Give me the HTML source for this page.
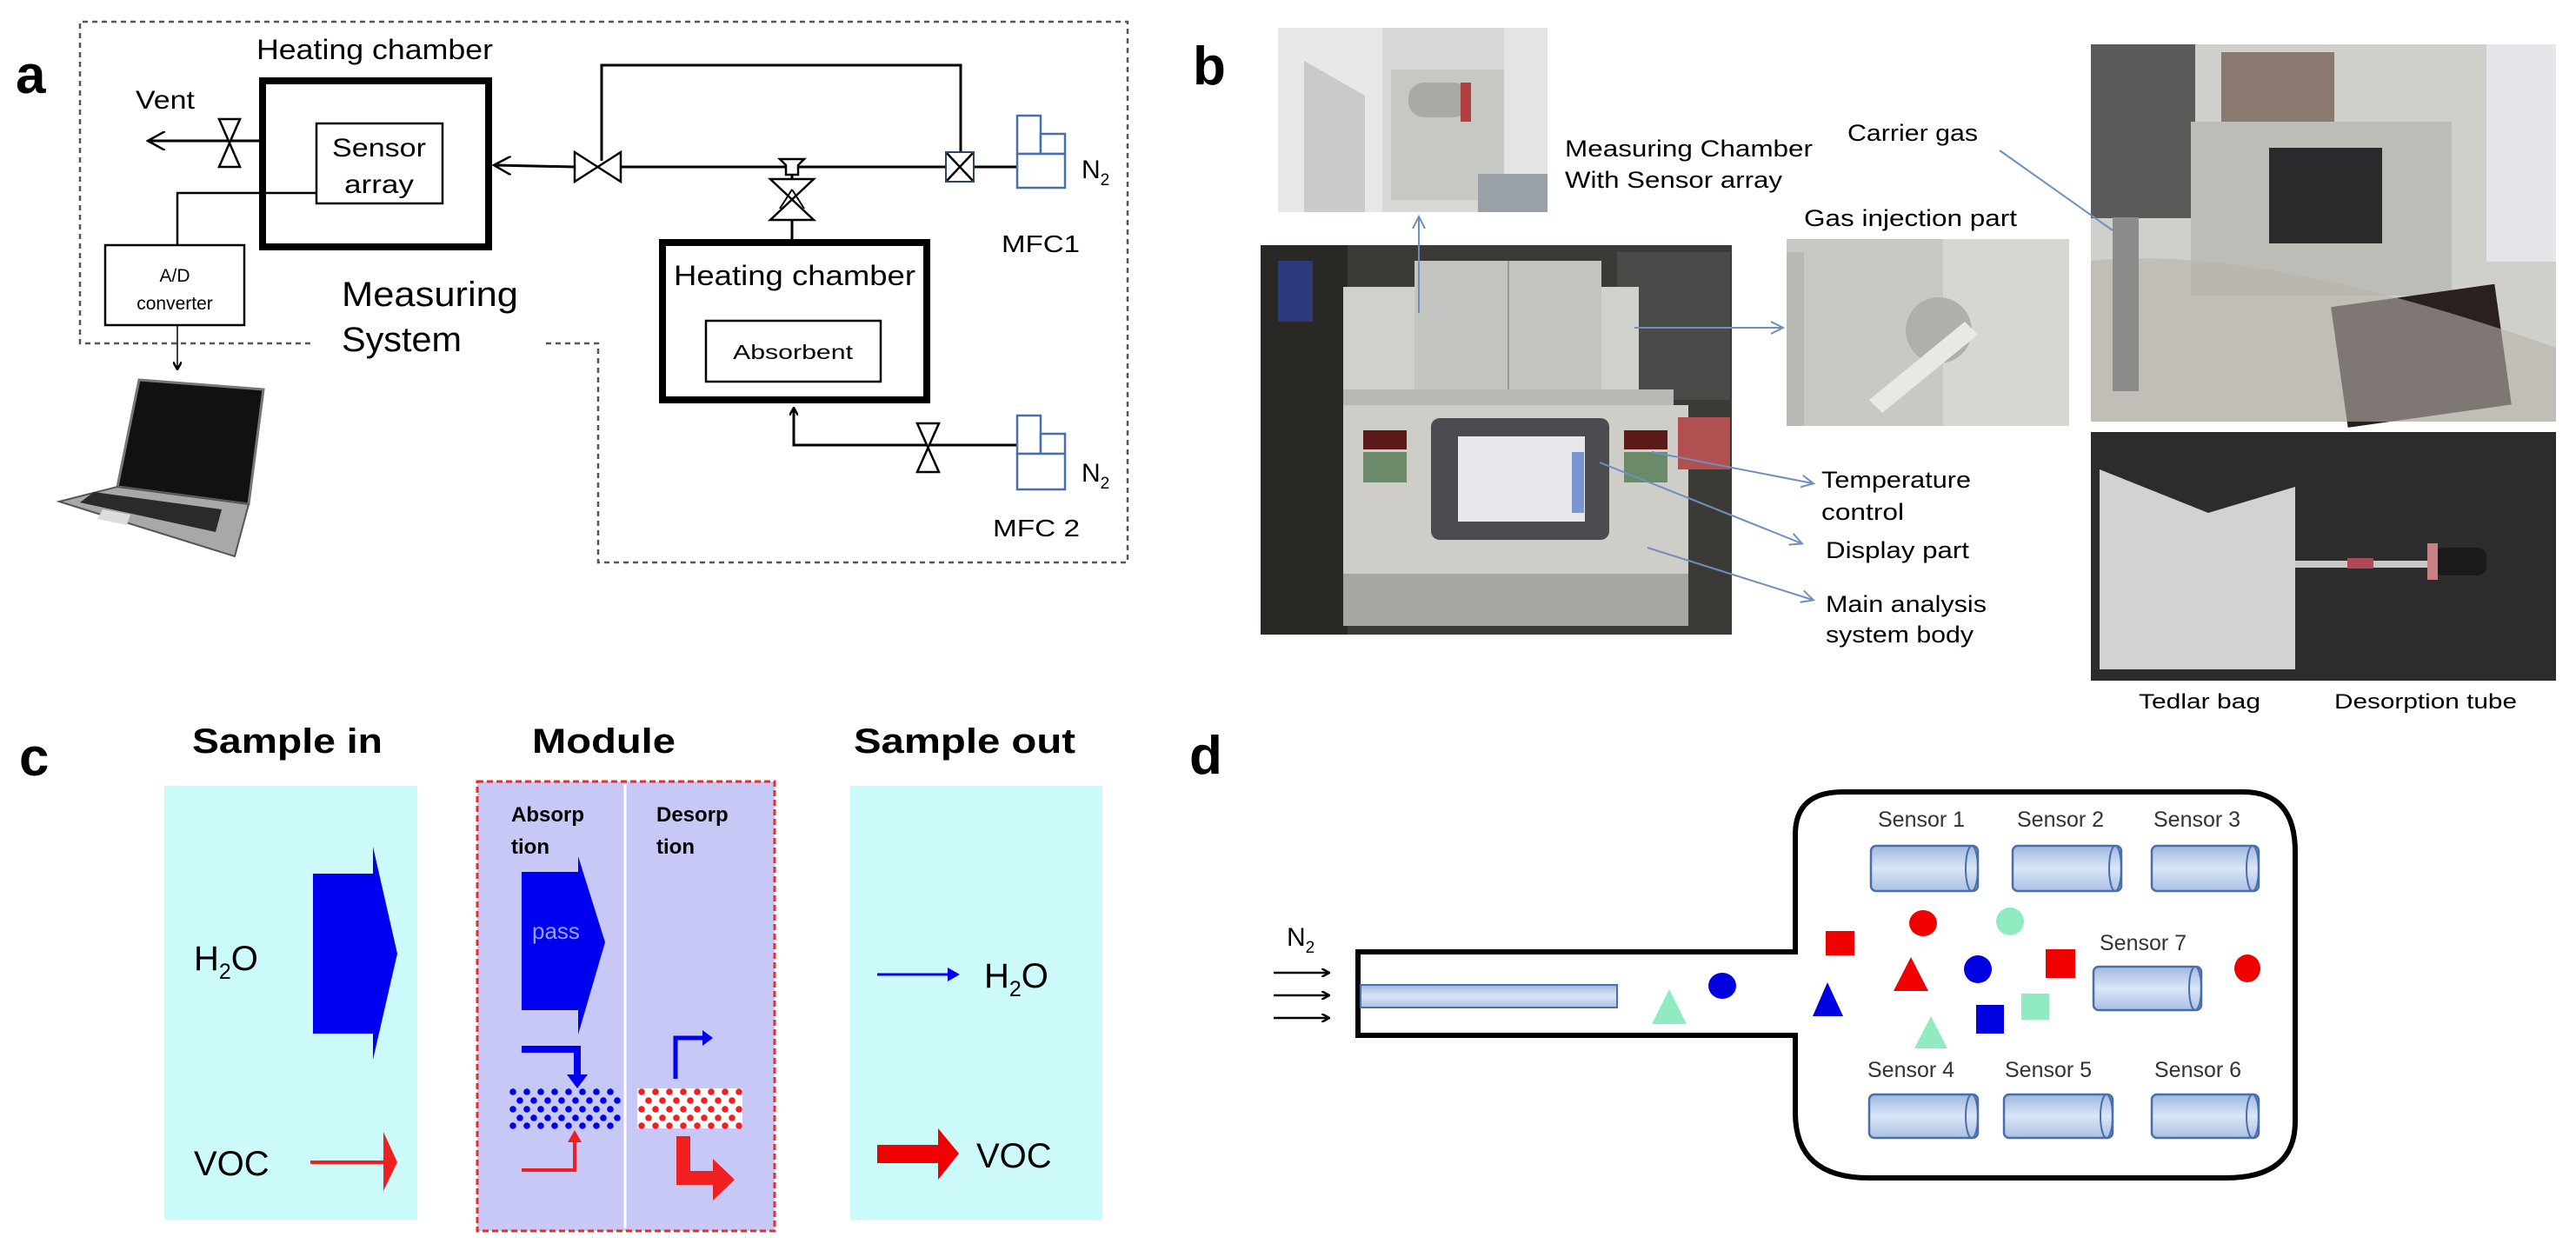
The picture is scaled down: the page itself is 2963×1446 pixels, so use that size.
<!DOCTYPE html>
<html><head><meta charset="utf-8"><style>
html,body{margin:0;padding:0;background:#fff;width:2963px;height:1446px;overflow:hidden}
svg{display:block}
text{font-family:"Liberation Sans",sans-serif}
</style></head><body>
<svg width="2963" height="1446" viewBox="0 0 2963 1446" xmlns="http://www.w3.org/2000/svg">
<defs>
<linearGradient id="cyl" x1="0" y1="0" x2="0" y2="1"><stop offset="0" stop-color="#9fb8e0"/><stop offset="0.5" stop-color="#dbe6f7"/><stop offset="1" stop-color="#a9c0e4"/></linearGradient>
<marker id="ah" markerWidth="10" markerHeight="10" refX="8" refY="5" orient="auto" markerUnits="userSpaceOnUse"><path d="M0,0 L9,5 L0,10" fill="none" stroke="#000" stroke-width="2.5"/></marker>
<marker id="bh" markerWidth="16" markerHeight="16" refX="13" refY="8" orient="auto" markerUnits="userSpaceOnUse"><path d="M0,1 L14,8 L0,15" fill="none" stroke="#6f8fc0" stroke-width="2"/></marker>
<marker id="kh" markerWidth="22" markerHeight="22" refX="18" refY="11" orient="auto" markerUnits="userSpaceOnUse"><path d="M0,0 L20,11 L0,22" fill="none" stroke="#000" stroke-width="2.5"/></marker>
</defs>

<!-- ============ PANEL A ============ -->
<text x="18" y="107" font-size="62" font-weight="bold">a</text>
<path d="M357,395 L92,395 L92,25 L1297,25 L1297,647 L688,647 L688,395 L625,395" fill="none" stroke="#555" stroke-width="2.5" stroke-dasharray="6,5"/>
<text x="295" y="68" font-size="32" textLength="272" lengthAdjust="spacingAndGlyphs">Heating chamber</text>
<rect x="302" y="93" width="260" height="191" fill="none" stroke="#000" stroke-width="8"/>
<rect x="364" y="142" width="145" height="92" fill="none" stroke="#000" stroke-width="2.5"/>
<text x="436" y="180" font-size="30" text-anchor="middle" textLength="108" lengthAdjust="spacingAndGlyphs">Sensor</text>
<text x="436" y="222" font-size="30" text-anchor="middle" textLength="80" lengthAdjust="spacingAndGlyphs">array</text>
<text x="156" y="125" font-size="30" textLength="68" lengthAdjust="spacingAndGlyphs">Vent</text>
<line x1="298" y1="162" x2="172" y2="162" stroke="#000" stroke-width="3" marker-end="url(#kh)"/>
<path d="M252,137 L276,137 L252,192 L276,192 Z" fill="#fff" stroke="#000" stroke-width="2.5"/>
<path d="M364,222 L204,222 L204,282" fill="none" stroke="#000" stroke-width="2.5"/>
<rect x="121" y="282" width="160" height="92" fill="none" stroke="#000" stroke-width="2.5"/>
<text x="201" y="324" font-size="21" text-anchor="middle">A/D</text>
<text x="201" y="356" font-size="21" text-anchor="middle">converter</text>
<line x1="204" y1="374" x2="204" y2="424" stroke="#000" stroke-width="1.5" marker-end="url(#ah)"/>
<text x="393" y="352" font-size="40" textLength="203" lengthAdjust="spacingAndGlyphs">Measuring</text>
<text x="393" y="404" font-size="40" textLength="138" lengthAdjust="spacingAndGlyphs">System</text>
<!-- laptop -->
<path d="M160,437 L303,448 L286,580 L135,560 Z" fill="#111" stroke="#777" stroke-width="3"/>
<path d="M135,560 L286,580 L270,640 L68,577 Z" fill="#a8a8a8" stroke="#555" stroke-width="2"/>
<path d="M108,566 L255,586 L248,612 L92,578 Z" fill="#2a2a2a"/>
<path d="M118,586 L150,592 L146,604 L112,597 Z" fill="#ddd"/>
<!-- main line -->
<line x1="661" y1="192" x2="570" y2="190" stroke="#000" stroke-width="3" marker-end="url(#kh)"/>
<path d="M714,192 L1170,192" stroke="#000" stroke-width="3"/>
<path d="M661,175 L661,209 L714,175 L714,209 Z" fill="#fff" stroke="#000" stroke-width="2.5"/>
<path d="M692,185 L692,75 L1105,75 L1105,180" fill="none" stroke="#000" stroke-width="3"/>
<path d="M897,183 L925,183 L918,190 L918,201 L904,201 L904,190 Z" fill="#fff" stroke="#000" stroke-width="2.5"/>
<rect x="1088" y="175" width="32" height="34" fill="#fff" stroke="#000" stroke-width="2"/>
<path d="M1088,175 L1120,209 M1120,175 L1088,209" stroke="#000" stroke-width="2.5"/>
<rect x="1088" y="175" width="32" height="34" fill="none" stroke="#6a86b5" stroke-width="1"/>
<path d="M911,201 L911,276" stroke="#000" stroke-width="3"/>
<path d="M886,206 L936,206 L886,253 L936,253 Z" fill="#fff" stroke="#000" stroke-width="2.5"/>
<path d="M911,218 L897,240 M911,218 L925,240" stroke="#000" stroke-width="2"/>
<rect x="762" y="279" width="304" height="181" fill="none" stroke="#000" stroke-width="8"/>
<text x="914" y="328" font-size="32" text-anchor="middle" textLength="278" lengthAdjust="spacingAndGlyphs">Heating chamber</text>
<rect x="812" y="369" width="201" height="70" fill="none" stroke="#000" stroke-width="2.5"/>
<text x="912" y="413" font-size="23" text-anchor="middle" textLength="138" lengthAdjust="spacingAndGlyphs">Absorbent</text>
<path d="M1170,512 L913,512 L913,470" fill="none" stroke="#000" stroke-width="3" marker-end="url(#ah)"/>
<path d="M1055,487 L1080,487 L1055,543 L1080,543 Z" fill="#fff" stroke="#000" stroke-width="2.5"/>
<!-- MFCs -->
<g fill="#fff" stroke="#4a6ea8" stroke-width="2.5">
<rect x="1170" y="133" width="27" height="44"/><rect x="1197" y="154" width="28" height="23"/><rect x="1170" y="177" width="55" height="39"/>
<rect x="1170" y="478" width="27" height="44"/><rect x="1197" y="499" width="28" height="23"/><rect x="1170" y="522" width="55" height="41"/>
</g>
<text x="1244" y="205" font-size="30">N<tspan font-size="19" dy="8">2</tspan></text>
<text x="1244" y="554" font-size="30">N<tspan font-size="19" dy="8">2</tspan></text>
<text x="1152" y="290" font-size="28" textLength="90" lengthAdjust="spacingAndGlyphs">MFC1</text>
<text x="1142" y="617" font-size="28" textLength="100" lengthAdjust="spacingAndGlyphs">MFC 2</text>

<!-- ============ PANEL B ============ -->
<text x="1372" y="97" font-size="62" font-weight="bold">b</text>
<!-- photo 1 -->
<rect x="1470" y="32" width="310" height="212" fill="#d8d8d6"/>
<rect x="1470" y="32" width="120" height="212" fill="#e8e8e6"/>
<path d="M1500,70 L1570,110 L1570,244 L1500,244 Z" fill="#c9cbc8"/>
<rect x="1600" y="80" width="180" height="150" fill="#c6c8c4"/>
<rect x="1620" y="95" width="70" height="40" rx="18" fill="#a9aaa5"/>
<rect x="1680" y="95" width="12" height="45" fill="#b04040"/>
<rect x="1730" y="32" width="50" height="212" fill="#e4e4e2"/>
<rect x="1700" y="200" width="80" height="44" fill="#9aa0a8"/>
<!-- main photo -->
<rect x="1450" y="282" width="542" height="448" fill="#3c3a36"/>
<rect x="1450" y="282" width="100" height="448" fill="#2a2824"/>
<rect x="1470" y="300" width="40" height="70" fill="#2a3a7a"/>
<rect x="1860" y="290" width="130" height="170" fill="#4a4a48"/>
<rect x="1545" y="330" width="340" height="130" fill="#d0d0cc"/>
<rect x="1627" y="300" width="215" height="150" fill="#c4c4c0"/>
<line x1="1735" y1="300" x2="1735" y2="450" stroke="#999" stroke-width="2"/>
<rect x="1545" y="448" width="380" height="22" fill="#b8b8b4"/>
<rect x="1545" y="466" width="397" height="254" fill="#cfcdc8"/>
<rect x="1545" y="660" width="397" height="60" fill="#a6a6a2"/>
<rect x="1568" y="495" width="50" height="22" fill="#5a1a18"/>
<rect x="1868" y="495" width="50" height="22" fill="#5a1a18"/>
<rect x="1568" y="520" width="50" height="35" fill="#6a8a6a"/>
<rect x="1868" y="520" width="50" height="35" fill="#6a8a6a"/>
<rect x="1646" y="481" width="205" height="140" rx="10" fill="#4a4c50"/>
<rect x="1677" y="502" width="146" height="98" fill="#e6e8ee"/>
<rect x="1808" y="520" width="14" height="70" fill="#7a96d0"/>
<rect x="1930" y="480" width="60" height="60" fill="#b05050"/>
<!-- gas injection photo -->
<rect x="2055" y="275" width="325" height="215" fill="#d6d6d3"/>
<rect x="2055" y="275" width="180" height="215" fill="#c8c8c4"/>
<circle cx="2230" cy="380" r="38" fill="#b0b0aa"/>
<path d="M2150,460 L2260,370 L2275,385 L2165,475 Z" fill="#e8e8e4"/>
<rect x="2055" y="290" width="20" height="200" fill="#b8b8b4"/>
<!-- top right photo -->
<rect x="2405" y="51" width="535" height="434" fill="#cfcfcb"/>
<rect x="2405" y="51" width="120" height="200" fill="#5a5a58"/>
<rect x="2860" y="51" width="80" height="250" fill="#e6e6ea"/>
<rect x="2520" y="140" width="300" height="200" fill="#bdbdb8"/>
<rect x="2555" y="60" width="130" height="80" fill="#8a7a70"/>
<rect x="2610" y="170" width="130" height="110" fill="#2a2a2c"/>
<rect x="2690" y="340" width="190" height="140" fill="#2a2020" transform="rotate(-8 2780 410)"/>
<path d="M2405,300 Q2600,280 2940,400 L2940,485 L2405,485 Z" fill="#b8b3ac" opacity="0.6"/>
<rect x="2430" y="250" width="30" height="200" fill="#8c8c8c"/>
<!-- bottom right photo -->
<rect x="2405" y="497" width="535" height="286" fill="#2c2c2c"/>
<path d="M2415,540 L2540,590 L2640,560 L2640,770 L2415,770 Z" fill="#d2d2d4"/>
<rect x="2640" y="645" width="160" height="8" fill="#c8c8c8"/>
<rect x="2700" y="642" width="30" height="12" fill="#b04a5a"/>
<rect x="2800" y="630" width="60" height="32" rx="10" fill="#1a1a1a"/>
<rect x="2792" y="625" width="12" height="42" fill="#c88080"/>
<text x="2460" y="815" font-size="24" textLength="140" lengthAdjust="spacingAndGlyphs">Tedlar bag</text>
<text x="2685" y="815" font-size="24" textLength="210" lengthAdjust="spacingAndGlyphs">Desorption tube</text>
<!-- labels -->
<text x="1800" y="180" font-size="27" textLength="285" lengthAdjust="spacingAndGlyphs">Measuring Chamber</text>
<text x="1800" y="216" font-size="27" textLength="250" lengthAdjust="spacingAndGlyphs">With Sensor array</text>
<text x="2125" y="162" font-size="27" textLength="150" lengthAdjust="spacingAndGlyphs">Carrier gas</text>
<text x="2075" y="260" font-size="27" textLength="245" lengthAdjust="spacingAndGlyphs">Gas injection part</text>
<text x="2095" y="561" font-size="27" textLength="172" lengthAdjust="spacingAndGlyphs">Temperature</text>
<text x="2095" y="598" font-size="27" textLength="95" lengthAdjust="spacingAndGlyphs">control</text>
<text x="2100" y="642" font-size="27" textLength="165" lengthAdjust="spacingAndGlyphs">Display part</text>
<text x="2100" y="704" font-size="27" textLength="185" lengthAdjust="spacingAndGlyphs">Main analysis</text>
<text x="2100" y="739" font-size="27" textLength="170" lengthAdjust="spacingAndGlyphs">system body</text>
<g stroke="#6f8fc0" stroke-width="2" fill="none">
<line x1="1632" y1="360" x2="1632" y2="250" marker-end="url(#bh)"/>
<line x1="1880" y1="377" x2="2050" y2="377" marker-end="url(#bh)"/>
<line x1="2300" y1="173" x2="2430" y2="265"/>
<line x1="1900" y1="520" x2="2085" y2="556" marker-end="url(#bh)"/>
<line x1="1840" y1="532" x2="2072" y2="625" marker-end="url(#bh)"/>
<line x1="1895" y1="630" x2="2085" y2="690" marker-end="url(#bh)"/>
</g>

<!-- ============ PANEL C ============ -->
<text x="22" y="892" font-size="62" font-weight="bold">c</text>
<text x="221" y="866" font-size="40" font-weight="bold" textLength="219" lengthAdjust="spacingAndGlyphs">Sample in</text>
<text x="612" y="866" font-size="40" font-weight="bold" textLength="165" lengthAdjust="spacingAndGlyphs">Module</text>
<text x="982" y="866" font-size="40" font-weight="bold" textLength="255" lengthAdjust="spacingAndGlyphs">Sample out</text>
<rect x="189" y="904" width="291" height="499" fill="#ccfafa"/>
<rect x="978" y="904" width="290" height="499" fill="#ccfafa"/>
<rect x="549" y="899" width="342" height="517" fill="#c8c8f6" stroke="#e03030" stroke-width="3" stroke-dasharray="7,4"/>
<line x1="719" y1="902" x2="719" y2="1413" stroke="#fff" stroke-width="3"/>
<text x="223" y="1116" font-size="40">H<tspan font-size="25" dy="10">2</tspan><tspan dy="-10">O</tspan></text>
<text x="223" y="1352" font-size="40">VOC</text>
<path d="M360,1005 L429,1005 L429,974 L457,1097 L429,1219 L429,1189 L360,1189 Z" fill="#0000f0"/>
<path d="M357,1337 L450,1337" stroke="#f02020" stroke-width="4"/>
<path d="M441,1302 L457,1337 L441,1370 Z" fill="#f02020"/>
<text x="588" y="945" font-size="24" font-weight="bold">Absorp</text>
<text x="588" y="982" font-size="24" font-weight="bold">tion</text>
<text x="755" y="945" font-size="24" font-weight="bold">Desorp</text>
<text x="755" y="982" font-size="24" font-weight="bold">tion</text>
<path d="M600,1003 L665,1003 L665,985 L696,1084 L665,1190 L665,1162 L600,1162 Z" fill="#0000f0"/>
<text x="612" y="1080" font-size="26" fill="#9aa0ff">pass</text>
<path d="M600,1207 L664,1207 L664,1238" fill="none" stroke="#0000f0" stroke-width="8"/>
<path d="M652,1236 L664,1252 L676,1236 Z" fill="#0000f0"/>
<path d="M600,1346 L661,1346 L661,1312" fill="none" stroke="#f02020" stroke-width="4"/>
<path d="M653,1314 L661,1300 L669,1314 Z" fill="#f02020"/>
<path d="M777,1241 L777,1194 L810,1194" fill="none" stroke="#0000f0" stroke-width="5"/>
<path d="M808,1185 L820,1194 L808,1203 Z" fill="#0000f0"/>
<path d="M786,1307 L786,1355 L822,1355" fill="none" stroke="#f02020" stroke-width="16"/>
<path d="M820,1333 L845,1357 L820,1381 Z" fill="#f02020"/>
<g id="dots">
</g>
<!-- dot grids -->
<g fill="#0000f0">
<circle cx="590" cy="1256" r="3.8"/><circle cx="606" cy="1256" r="3.8"/><circle cx="622" cy="1256" r="3.8"/><circle cx="638" cy="1256" r="3.8"/><circle cx="654" cy="1256" r="3.8"/><circle cx="670" cy="1256" r="3.8"/><circle cx="686" cy="1256" r="3.8"/><circle cx="702" cy="1256" r="3.8"/>
<circle cx="598" cy="1266" r="3.8"/><circle cx="614" cy="1266" r="3.8"/><circle cx="630" cy="1266" r="3.8"/><circle cx="646" cy="1266" r="3.8"/><circle cx="662" cy="1266" r="3.8"/><circle cx="678" cy="1266" r="3.8"/><circle cx="694" cy="1266" r="3.8"/><circle cx="710" cy="1266" r="3.8"/>
<circle cx="590" cy="1276" r="3.8"/><circle cx="606" cy="1276" r="3.8"/><circle cx="622" cy="1276" r="3.8"/><circle cx="638" cy="1276" r="3.8"/><circle cx="654" cy="1276" r="3.8"/><circle cx="670" cy="1276" r="3.8"/><circle cx="686" cy="1276" r="3.8"/><circle cx="702" cy="1276" r="3.8"/>
<circle cx="598" cy="1286" r="3.8"/><circle cx="614" cy="1286" r="3.8"/><circle cx="630" cy="1286" r="3.8"/><circle cx="646" cy="1286" r="3.8"/><circle cx="662" cy="1286" r="3.8"/><circle cx="678" cy="1286" r="3.8"/><circle cx="694" cy="1286" r="3.8"/><circle cx="710" cy="1286" r="3.8"/>
<circle cx="590" cy="1295" r="3.8"/><circle cx="606" cy="1295" r="3.8"/><circle cx="622" cy="1295" r="3.8"/><circle cx="638" cy="1295" r="3.8"/><circle cx="654" cy="1295" r="3.8"/><circle cx="670" cy="1295" r="3.8"/><circle cx="686" cy="1295" r="3.8"/><circle cx="702" cy="1295" r="3.8"/>
</g>
<rect x="733" y="1252" width="121" height="46" fill="#fff"/>
<g fill="#f02020">
<circle cx="738" cy="1256" r="3.8"/><circle cx="754" cy="1256" r="3.8"/><circle cx="770" cy="1256" r="3.8"/><circle cx="786" cy="1256" r="3.8"/><circle cx="802" cy="1256" r="3.8"/><circle cx="818" cy="1256" r="3.8"/><circle cx="834" cy="1256" r="3.8"/><circle cx="850" cy="1256" r="3.8"/>
<circle cx="746" cy="1266" r="3.8"/><circle cx="762" cy="1266" r="3.8"/><circle cx="778" cy="1266" r="3.8"/><circle cx="794" cy="1266" r="3.8"/><circle cx="810" cy="1266" r="3.8"/><circle cx="826" cy="1266" r="3.8"/><circle cx="842" cy="1266" r="3.8"/>
<circle cx="738" cy="1276" r="3.8"/><circle cx="754" cy="1276" r="3.8"/><circle cx="770" cy="1276" r="3.8"/><circle cx="786" cy="1276" r="3.8"/><circle cx="802" cy="1276" r="3.8"/><circle cx="818" cy="1276" r="3.8"/><circle cx="834" cy="1276" r="3.8"/><circle cx="850" cy="1276" r="3.8"/>
<circle cx="746" cy="1286" r="3.8"/><circle cx="762" cy="1286" r="3.8"/><circle cx="778" cy="1286" r="3.8"/><circle cx="794" cy="1286" r="3.8"/><circle cx="810" cy="1286" r="3.8"/><circle cx="826" cy="1286" r="3.8"/><circle cx="842" cy="1286" r="3.8"/>
<circle cx="738" cy="1295" r="3.8"/><circle cx="754" cy="1295" r="3.8"/><circle cx="770" cy="1295" r="3.8"/><circle cx="786" cy="1295" r="3.8"/><circle cx="802" cy="1295" r="3.8"/><circle cx="818" cy="1295" r="3.8"/><circle cx="834" cy="1295" r="3.8"/><circle cx="850" cy="1295" r="3.8"/>
</g>
<path d="M1009,1121 L1098,1121" stroke="#0000f0" stroke-width="3"/>
<path d="M1090,1113 L1104,1121 L1090,1129 Z" fill="#0000f0"/>
<text x="1132" y="1136" font-size="40">H<tspan font-size="25" dy="10">2</tspan><tspan dy="-10">O</tspan></text>
<path d="M1009,1317 L1079,1317 L1079,1298 L1103,1327 L1079,1357 L1079,1338 L1009,1338 Z" fill="#f00000"/>
<text x="1123" y="1343" font-size="40">VOC</text>

<!-- ============ PANEL D ============ -->
<text x="1368" y="890" font-size="62" font-weight="bold">d</text>
<path d="M1562,1095 L2065,1095 L2065,960 Q2065,911 2120,911 L2580,911 Q2640,911 2640,980 L2640,1290 Q2640,1355 2560,1355 L2150,1355 Q2065,1355 2065,1280 L2065,1191 L1562,1191 Z" fill="#fff" stroke="#000" stroke-width="6"/>
<rect x="1565" y="1133" width="295" height="26" fill="url(#cyl)" stroke="#4a6ea8" stroke-width="2"/>
<text x="1480" y="1088" font-size="30">N<tspan font-size="19" dy="8">2</tspan></text>
<g stroke="#000" stroke-width="2.5" fill="none">
<line x1="1465" y1="1119" x2="1528" y2="1119" marker-end="url(#ah)"/>
<line x1="1465" y1="1145" x2="1528" y2="1145" marker-end="url(#ah)"/>
<line x1="1465" y1="1171" x2="1528" y2="1171" marker-end="url(#ah)"/>
</g>
<g fill="url(#cyl)" stroke="#4a6ea8" stroke-width="2.5">
<rect x="2152" y="973" width="123" height="52" rx="6"/><rect x="2315" y="973" width="125" height="52" rx="6"/><rect x="2475" y="973" width="123" height="52" rx="6"/>
<rect x="2150" y="1259" width="125" height="50" rx="6"/><rect x="2305" y="1259" width="125" height="50" rx="6"/><rect x="2475" y="1259" width="123" height="50" rx="6"/>
<rect x="2408" y="1112" width="124" height="50" rx="6"/>
</g>
<g fill="none" stroke="#4a6ea8" stroke-width="2">
<ellipse cx="2268" cy="999" rx="7" ry="26"/><ellipse cx="2433" cy="999" rx="7" ry="26"/><ellipse cx="2591" cy="999" rx="7" ry="26"/>
<ellipse cx="2268" cy="1284" rx="7" ry="25"/><ellipse cx="2423" cy="1284" rx="7" ry="25"/><ellipse cx="2591" cy="1284" rx="7" ry="25"/>
<ellipse cx="2525" cy="1137" rx="7" ry="25"/>
</g>
<g font-size="25" fill="#333">
<text x="2160" y="951">Sensor 1</text><text x="2320" y="951">Sensor 2</text><text x="2477" y="951">Sensor 3</text>
<text x="2148" y="1239">Sensor 4</text><text x="2306" y="1239">Sensor 5</text><text x="2478" y="1239">Sensor 6</text>
<text x="2415" y="1093">Sensor 7</text>
</g>
<path d="M1920,1138 L1940,1178 L1900,1178 Z" fill="#90ecc0"/>
<ellipse cx="1981" cy="1134" rx="16" ry="15" fill="#0000e0"/>
<path d="M2102,1130 L2120,1169 L2085,1169 Z" fill="#0000e0"/>
<rect x="2100" y="1071" width="33" height="28" fill="#f00000"/>
<ellipse cx="2212" cy="1062" rx="16" ry="15" fill="#f00000"/>
<path d="M2198,1101 L2218,1140 L2178,1140 Z" fill="#f00000"/>
<ellipse cx="2312" cy="1060" rx="16" ry="16" fill="#90ecc0"/>
<ellipse cx="2275" cy="1115" rx="16" ry="16" fill="#0000e0"/>
<rect x="2353" y="1092" width="34" height="33" fill="#f00000"/>
<rect x="2325" y="1143" width="32" height="30" fill="#90ecc0"/>
<rect x="2273" y="1156" width="32" height="33" fill="#0000e0"/>
<path d="M2221,1169 L2240,1206 L2202,1206 Z" fill="#90ecc0"/>
<ellipse cx="2585" cy="1114" rx="15" ry="16" fill="#f00000"/>
</svg>
</body></html>
